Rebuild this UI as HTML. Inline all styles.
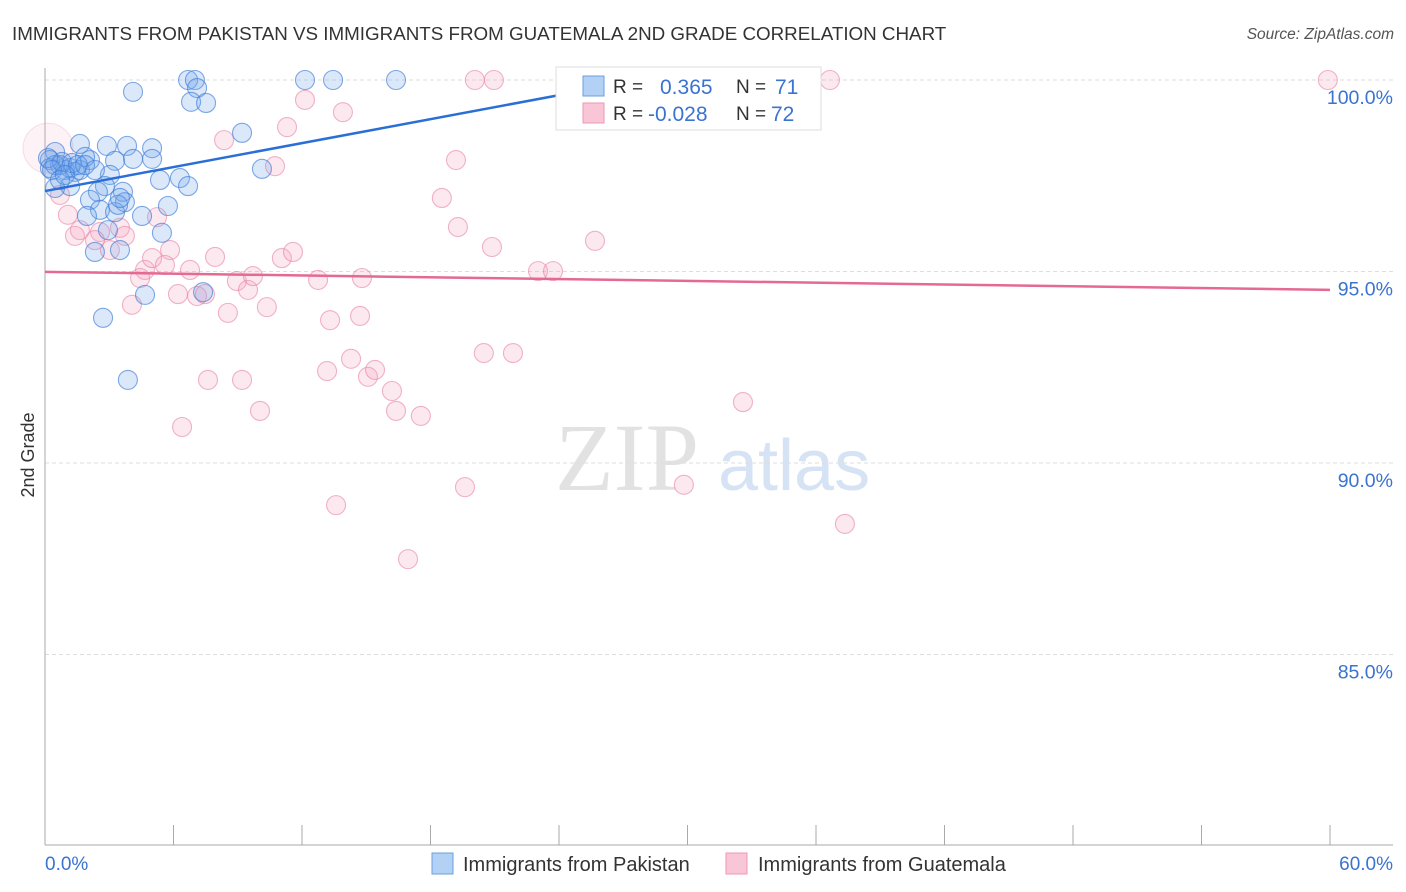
<!DOCTYPE html>
<html><head><meta charset="utf-8"><style>
body{margin:0;background:#fff;font-family:"Liberation Sans",sans-serif;}
svg{display:block}
</style></head><body>
<svg id="chart" width="1406" height="892">
<text x="12" y="40" font-size="18.8" fill="#333">IMMIGRANTS FROM PAKISTAN VS IMMIGRANTS FROM GUATEMALA 2ND GRADE CORRELATION CHART</text>
<text x="1394" y="39" font-size="15.5" fill="#555" font-style="italic" text-anchor="end">Source: ZipAtlas.com</text>
<text transform="translate(34,455) rotate(-90)" font-size="18" fill="#333" text-anchor="middle">2nd Grade</text>
<g><text x="555" y="490" font-size="96" fill="#e2e2e2" font-family="Liberation Serif,serif">ZIP</text><text x="718" y="490" font-size="72" fill="#d5e3f4">atlas</text></g>
<g id="grid"></g><g id="axes"></g><g id="pts"></g><g id="trends"></g>
<g>
<rect x="556" y="67" width="265" height="63" fill="#fff" stroke="#ddd"/>
<rect x="583" y="76" width="21" height="20" fill="#b3d0f5" stroke="#6a9fe0"/>
<rect x="583" y="103" width="21" height="20" fill="#f8c6d6" stroke="#ee99b4"/>
<text x="613" y="93" font-size="19" fill="#333">R = </text>
<text x="660" y="94" font-size="21" fill="#3a73d0">0.365</text>
<text x="736" y="93" font-size="19" fill="#333">N = </text>
<text x="775" y="94" font-size="21" fill="#3a73d0">71</text>
<text x="613" y="120" font-size="19" fill="#333">R = </text>
<text x="648" y="121" font-size="21" fill="#3a73d0">-0.028</text>
<text x="736" y="120" font-size="19" fill="#333">N = </text>
<text x="771" y="121" font-size="21" fill="#3a73d0">72</text>
</g>
<g>
<rect x="432" y="853" width="21" height="21" fill="#b3d0f5" stroke="#6a9fe0"/>
<text x="463" y="871" font-size="20" fill="#333">Immigrants from Pakistan</text>
<rect x="726" y="853" width="21" height="21" fill="#f8c6d6" stroke="#ee99b4"/>
<text x="758" y="871" font-size="20" fill="#333">Immigrants from Guatemala</text>
</g>
</svg>
<script>
const yTicks=[100,95,90,85];
const yTickLabels=["100.0%","95.0%","90.0%","85.0%"];
const xTickLabels=["0.0%","60.0%"];
const bx=[6.68,7.00,12.14,13.45,16.39,35.29,7.10,4.11,6.82,7.52,9.20,10.13,3.83,2.89,1.63,5.00,5.00,4.11,3.27,2.10,0.47,0.23,0.70,1.17,1.40,0.93,1.63,1.87,3.03,5.37,6.30,6.68,2.80,3.64,2.47,1.17,0.47,2.10,3.73,5.74,2.57,3.27,3.41,4.53,1.96,2.94,5.46,2.33,3.50,4.67,7.38,2.71,3.87,0.23,0.47,0.79,1.26,1.54,0.14,0.33,1.87,2.33,3.50,0.70,0.93];
const by=[100,100,100,100,100,100,99.79,99.69,99.43,99.40,98.62,97.68,98.28,98.28,98.33,98.22,97.94,97.94,97.89,97.91,98.12,97.91,97.78,97.70,97.60,97.65,97.65,97.99,97.52,97.39,97.44,97.23,97.23,97.08,97.08,97.23,97.18,96.87,96.81,96.71,96.61,96.55,96.74,96.45,96.45,96.08,96.01,95.51,95.56,94.39,94.46,93.79,92.17,97.70,97.78,97.86,97.83,97.78,97.96,97.65,97.78,97.65,96.92,97.39,97.52];
const px=[0.70,1.07,1.40,1.63,2.57,3.50,3.73,3.03,2.33,5.23,5.84,4.67,4.44,4.06,5.00,5.60,6.77,6.21,7.10,7.47,7.94,8.54,8.96,9.48,9.71,10.36,11.06,11.58,12.75,13.31,14.71,14.80,7.61,9.20,6.40,10.04,13.17,14.29,15.08,15.41,16.20,16.39,17.55,8.36,11.30,10.74,12.14,13.91,19.19,18.53,19.28,20.87,23.02,23.72,25.68,20.49,21.85,20.07,20.96,33.61,36.65,59.90,19.61,13.59,16.95,29.83,32.59,37.35];
const py=[97.00,96.48,95.93,96.08,96.03,96.14,95.93,95.56,95.82,96.42,95.56,95.04,94.83,94.13,95.35,95.17,95.04,94.41,94.36,94.41,95.38,93.92,94.75,94.52,94.88,94.07,95.35,95.51,94.78,93.73,93.84,94.83,92.17,92.17,90.94,91.36,92.40,92.72,92.25,92.43,91.88,91.36,91.23,98.43,98.77,97.75,99.48,99.16,97.91,96.92,96.16,95.64,95.01,95.01,95.80,92.87,92.87,100,100,100,100,100,89.37,88.90,87.49,89.43,91.59,88.41];
const bigPink=[0.14,98.22];
const blueTrend=[[0,97.10],[27.8,100]];
const pinkTrend=[[0,94.99],[60,94.52]];
const X=v=>45+v*1285/60, Y=v=>80+(100-v)*38.3;
const NS="http://www.w3.org/2000/svg";
function mk(t,a,p){const e=document.createElementNS(NS,t);for(const k in a)e.setAttribute(k,a[k]);document.getElementById(p).appendChild(e);return e;}
yTicks.forEach((t,i)=>{
 const l=mk('line',{x1:45,x2:1393,y1:Y(t),y2:Y(t),stroke:'#ddd','stroke-dasharray':'4,3'},'grid');
 
 
 const tx=mk('text',{x:1393,y:Y(t)+24,'font-size':19.5,fill:'#3a73d0','text-anchor':'end'},'grid');tx.textContent=yTickLabels[i];
 
 
});
let a=mk('line',{x1:45,x2:45,y1:68,y2:845,stroke:'#aaa'},'axes');


a=mk('line',{x1:45,x2:1393,y1:845,y2:845,stroke:'#aaa'},'axes');


for(let i=0;i<=10;i++){const t=mk('line',{x1:X(i*6),x2:X(i*6),y1:825,y2:845,stroke:'#aaa'},'axes');
 
 }
[[0,'start',45],[1,'end',1393]].forEach(([i,an,x])=>{const t=mk('text',{x:x,y:870,'font-size':19,fill:'#3a73d0','text-anchor':an},'axes');t.textContent=xTickLabels[i];
 
 });
let c=mk('circle',{cx:X(bigPink[0]),cy:Y(bigPink[1]),r:25,fill:'rgba(244,170,195,0.15)',stroke:'rgba(232,130,165,0.25)'},'pts');


px.forEach((v,i)=>{const e=mk('circle',{cx:X(v),cy:Y(py[i]),r:9.5,fill:'rgba(244,165,190,0.25)',stroke:'rgba(232,130,165,0.6)','stroke-width':1.1},'pts');
 
 });
bx.forEach((v,i)=>{const e=mk('circle',{cx:X(v),cy:Y(by[i]),r:9.5,fill:'rgba(110,165,235,0.25)',stroke:'rgba(60,125,215,0.65)','stroke-width':1.1},'pts');
 
 });
let tl=mk('line',{x1:X(blueTrend[0][0]),y1:Y(blueTrend[0][1]),x2:X(blueTrend[1][0]),y2:Y(blueTrend[1][1]),stroke:'#2a6fd6','stroke-width':2.5},'trends');


tl=mk('line',{x1:X(pinkTrend[0][0]),y1:Y(pinkTrend[0][1]),x2:X(pinkTrend[1][0]),y2:Y(pinkTrend[1][1]),stroke:'#e46a93','stroke-width':2.5},'trends');


</script>
</body></html>
